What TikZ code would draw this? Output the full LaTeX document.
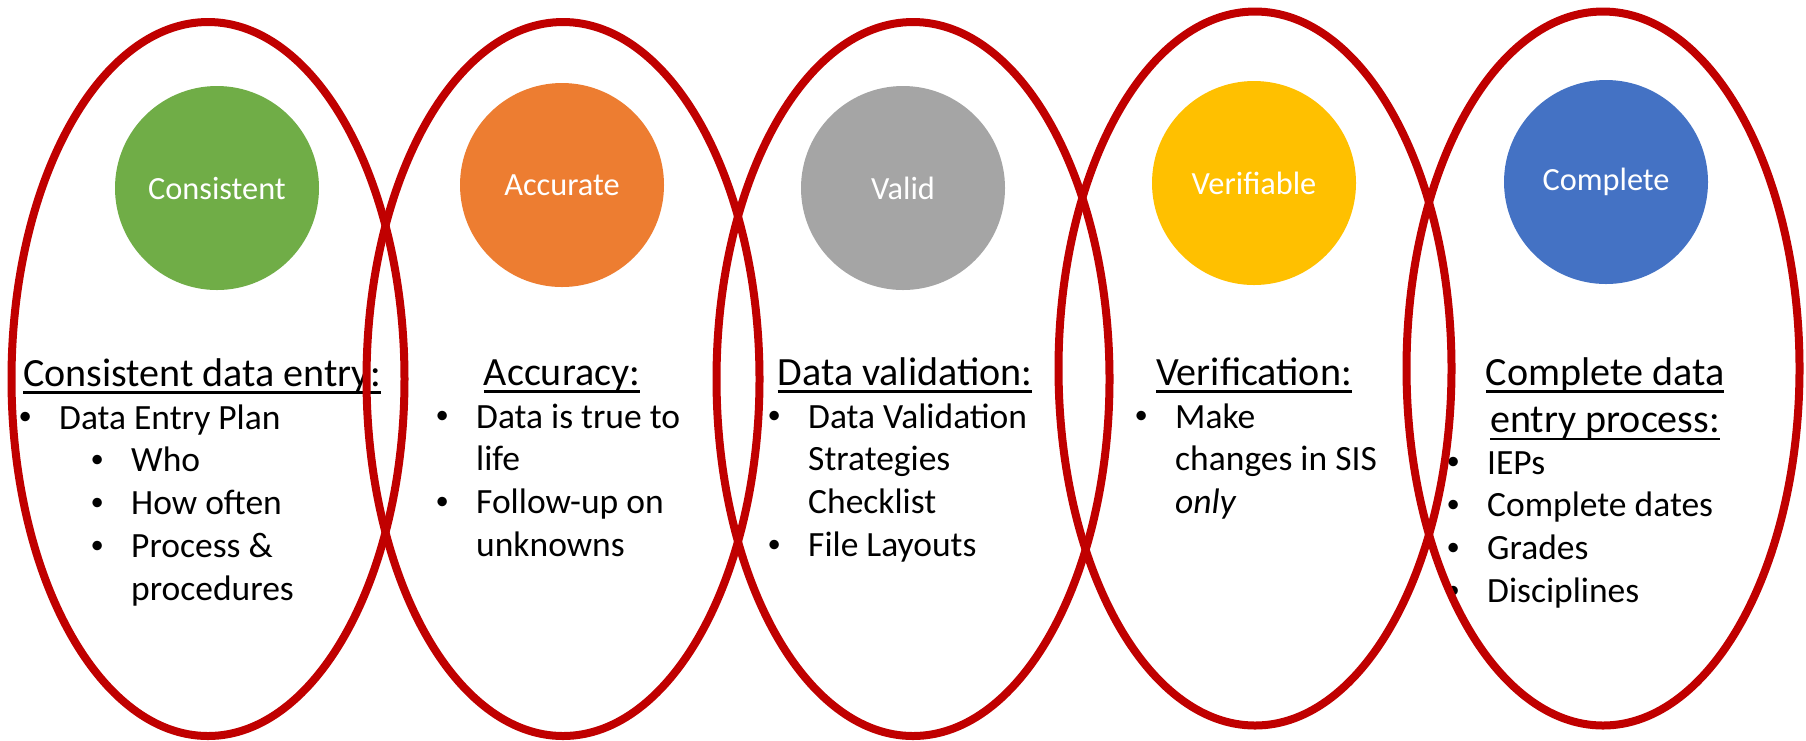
\documentclass[tikz,border=0pt]{standalone}
\usepackage{fontspec}
\usepackage{graphicx}
\setmainfont{Carlito}

\definecolor{ovalred}{HTML}{C00000}
\definecolor{qgreen}{HTML}{70AD47}
\definecolor{qorange}{HTML}{ED7D31}
\definecolor{qgray}{HTML}{A5A5A5}
\definecolor{qyellow}{HTML}{FFC000}
\definecolor{qblue}{HTML}{4472C4}

\newcommand{\headfont}{\fontsize{11.4}{12.2}\selectfont}
\newcommand{\bodyfont}{\fontsize{10.1}{12.2}\selectfont}
\newcommand{\blt}{\makebox[4.05mm][l]{\raisebox{0.25ex}{\scalebox{0.75}{\textbullet}}}}
\newcommand{\uln}[1]{\setbox0\hbox{#1}\rlap{\rule[-0.75mm]{\wd0}{0.6pt}}\box0}

\tikzset{
    oval/.style={draw=ovalred,line width=0.8mm},
    dot/.style={circle,minimum size=20.4mm,inner sep=0pt,text=white,font=\fontsize{9.2}{11}\selectfont},
    head/.style={anchor=base,inner sep=0pt,font=\headfont},
    lst/.style={anchor=base west,inner sep=0pt,font=\bodyfont}
}

\begin{document}
\begin{tikzpicture}[x=0.1mm,y=-0.1mm]
    
    \useasboundingbox[fill=white] (0,0) rectangle (1806,740);
    
    \foreach \x/\y/\c/\t in {217/188/qgreen/Consistent,562/185/qorange/Accurate,903/188/qgray/Valid,1254/183/qyellow/Verifiable,1606/182/qblue/Complete}
    \node[dot,fill=\c] (\t) at (\x,\y) {\t};
    
    \node[head] (consistentHead) at (202,386) {\uln{Consistent data entry:}};
    \node[lst] (consistentList) at (18,429) {\begin{tabular}[t]{@{}l@{}}
        \blt Data Entry Plan\\
        \hspace{7.2mm}\blt Who\\
        \hspace{7.2mm}\blt How often\\
        \hspace{7.2mm}\blt Process \&\\
        \hspace{11.25mm}procedures
    \end{tabular}};
    
    \node[head] (accurateHead) at (562,385) {\uln{Accuracy:}};
    \node[lst] (accurateList) at (435,428) {\begin{tabular}[t]{@{}l@{}}
        \blt Data is true to\\
        \hspace{4.05mm}life\\
        \blt Follow-up on\\
        \hspace{4.05mm}unknowns
    \end{tabular}};
    
    \node[head] (validHead) at (905,385) {\uln{Data validation:}};
    \node[lst] (validList) at (767,428) {\begin{tabular}[t]{@{}l@{}}
        \blt Data Validation\\
        \hspace{4.05mm}Strategies\\
        \hspace{4.05mm}Checklist\\
        \blt File Layouts
    \end{tabular}};
    
    \node[head] (verifiableHead) at (1254,385) {\uln{Verification:}};
    \node[lst] (verifiableList) at (1134,428) {\begin{tabular}[t]{@{}l@{}}
        \blt Make\\
        \hspace{4.05mm}changes in SIS\\
        \hspace{4.05mm}\textit{only}
    \end{tabular}};
    
    \node[head] (completeHead) at (1605,385) {\begin{tabular}[t]{@{}c@{}}
        \uln{Complete data}\\[1.2pt]
        \uln{entry process:}
    \end{tabular}};
    \node[lst] (completeList) at (1446,474) {\begin{tabular}[t]{@{}l@{}}
        \blt IEPs\\
        \blt Complete dates\\
        \blt Grades\\
        \blt Disciplines
    \end{tabular}};
    
    \foreach \x/\y in {208/379,563/379,913/379,1255/368.5,1603/368.5}
    \draw[oval] (\x,\y) ellipse [x radius=19.65mm,y radius=35.7mm];
    
\end{tikzpicture}
\end{document}
